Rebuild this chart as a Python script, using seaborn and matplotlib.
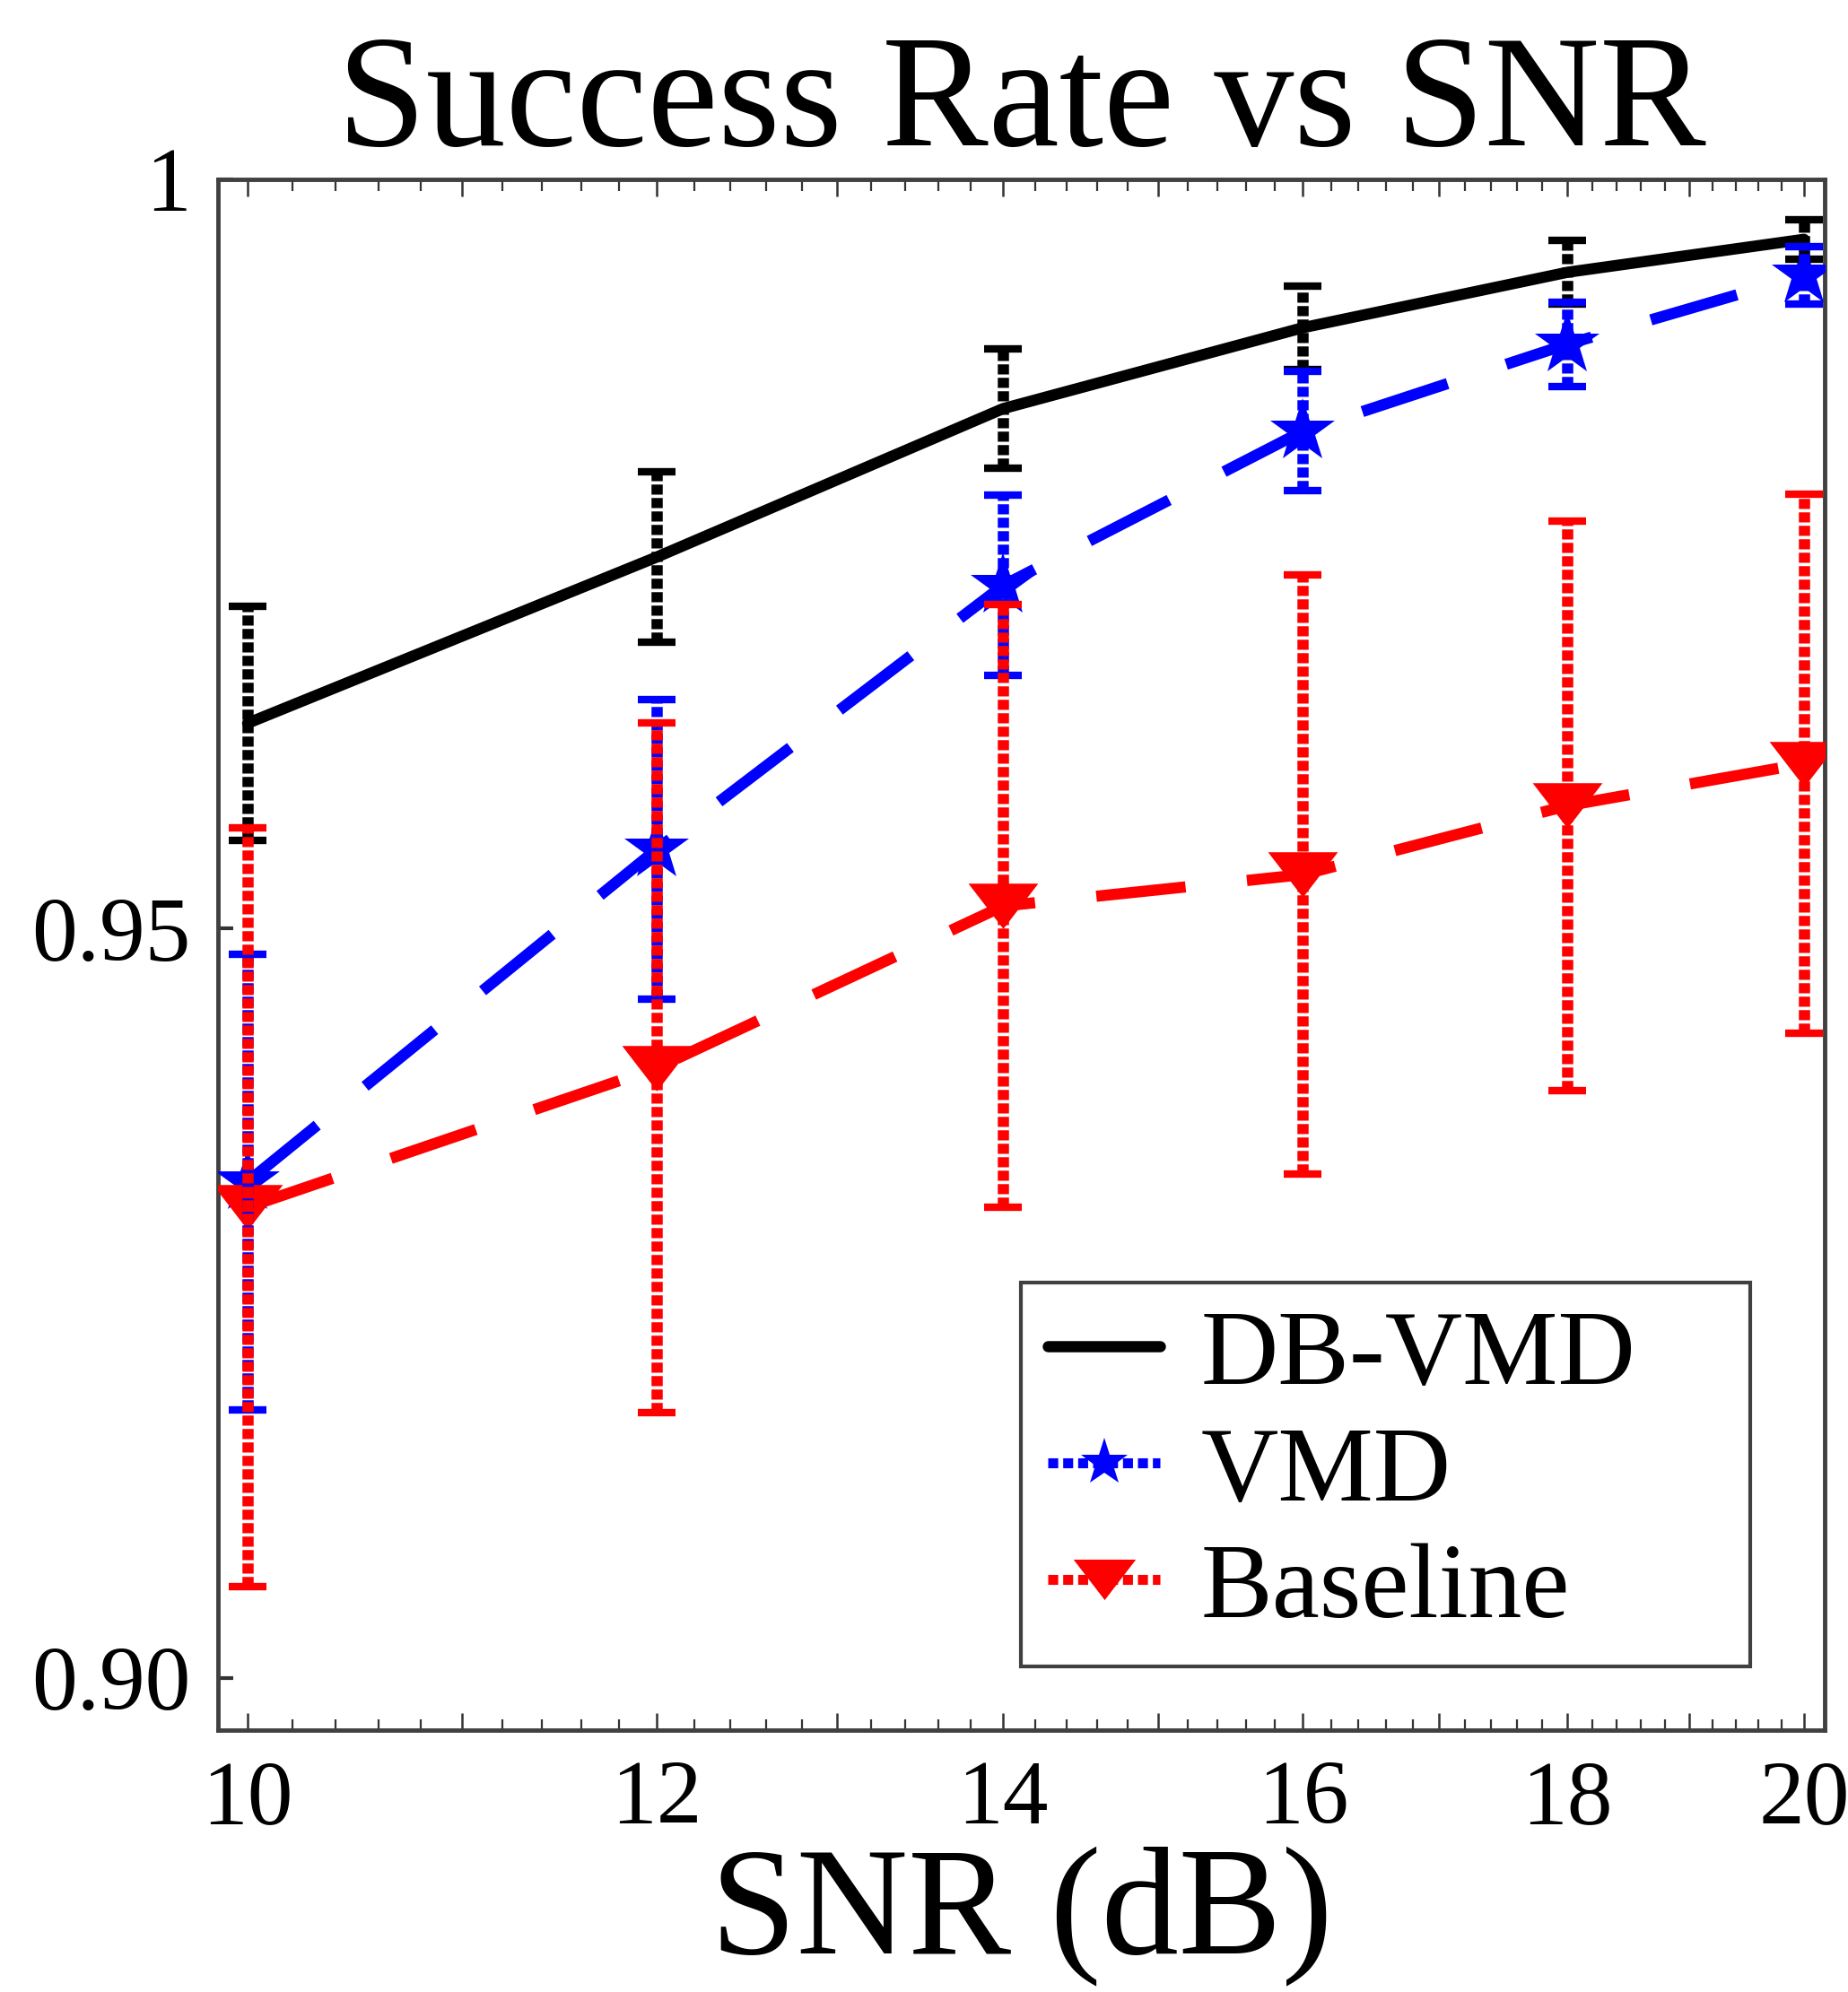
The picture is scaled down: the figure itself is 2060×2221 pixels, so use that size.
import numpy as np
import pandas as pd
import matplotlib
matplotlib.use("Agg")
import matplotlib.pyplot as plt
from matplotlib.lines import Line2D
from matplotlib.ticker import FixedLocator, FixedFormatter, NullFormatter
import seaborn as sns

# ---------------- data ----------------
snr = [10, 12, 14, 16, 18, 20]
db_vmd = [0.9637, 0.9748, 0.9847, 0.9901, 0.9938, 0.9960]
db_vmd_err = [0.0078, 0.0057, 0.0040, 0.0028, 0.0021, 0.0013]
vmd = [0.9331, 0.9553, 0.9729, 0.9832, 0.9890, 0.9936]
vmd_err = [0.0152, 0.0100, 0.0060, 0.0040, 0.0028, 0.0019]
baseline = [0.9314, 0.9407, 0.9515, 0.9536, 0.9582, 0.9610]
baseline_err = [0.0253, 0.0230, 0.0201, 0.0200, 0.0190, 0.0180]

series_names = ["DB-VMD", "VMD", "Baseline"]
x_major = [10, 11, 12, 13, 14, 15, 16, 17, 18, 19, 20]
x_labels = ["10", "", "12", "", "14", "", "16", "", "18", "", "20"]
y_ticks = [0.90, 0.95, 1.0]
y_labels = ["0.90", "0.95", "1"]

# ---------------- style ----------------
sns.set_style("white")
plt.rcParams["font.family"] = ["Liberation Serif", "DejaVu Serif"]
plt.rcParams["text.color"] = "black"
plt.rcParams["axes.labelcolor"] = "black"
plt.rcParams["xtick.labelcolor"] = "black"
plt.rcParams["ytick.labelcolor"] = "black"

fig = plt.figure(figsize=(20.60, 22.21), dpi=100)
ax = fig.add_axes([243 / 2060, 1 - 1929 / 2221, 1791 / 2060, 1729 / 2221])
ax.set_xscale("log")

tri = [(-1, 0.65), (1, 0.65), (0, -0.65)]
styles = [
    dict(color="black", marker=None, ms=0, dashes=None),
    dict(color="#0000ff", marker="*", ms=54, dashes=(8.0, 5.5)),
    dict(color="#ff0000", marker=tri, ms=56, dashes=(8.0, 5.5)),
]
values = [db_vmd, vmd, baseline]
errors = [db_vmd_err, vmd_err, baseline_err]

LW = 9
for name, vals, errs, st in zip(series_names, values, errors, styles):
    df = pd.DataFrame({"SNR": snr, "rate": vals})
    n_before = len(ax.lines)
    kws = dict(x="SNR", y="rate", data=df, color=st["color"], linewidth=LW,
               ax=ax, errorbar=None, legend=False, sort=False)
    if st["marker"] is not None:
        kws.update(marker=st["marker"], markersize=st["ms"],
                   markeredgewidth=0, markerfacecolor=st["color"])
    sns.lineplot(**kws)
    line = ax.lines[n_before]
    if st["dashes"] is not None:
        line.set_dashes(st["dashes"])
    line.set_zorder(3)
    cont = ax.errorbar(snr, vals, yerr=errs, fmt="none", ecolor=st["color"],
                       elinewidth=9, capsize=15, capthick=6, zorder=4)
    for lc in cont.lines[2]:
        lc.set_linestyle((0, (0.9, 0.3)))

# ---------------- axes ----------------
ax.set_xlim(9.869, 20.185)
ax.set_ylim(0.8965, 1.0)

ax.xaxis.set_major_locator(FixedLocator(x_major))
ax.xaxis.set_major_formatter(FixedFormatter(x_labels))
minor = [round(v, 1) for v in np.arange(9.8, 20.41, 0.2) if abs(v - round(v)) > 1e-6]
ax.xaxis.set_minor_locator(FixedLocator(minor))
ax.xaxis.set_minor_formatter(NullFormatter())
ax.set_yticks(y_ticks)
ax.set_yticklabels(y_labels)

ax.tick_params(axis="x", which="major", direction="in", top=True, bottom=True,
               length=14, width=1.8, color="#333333", labelsize=73, pad=24,
               labelcolor="black")
ax.tick_params(axis="x", which="minor", direction="in", top=True, bottom=True,
               length=9, width=1.6, color="#333333")
ax.tick_params(axis="y", which="major", direction="in", left=True, right=False,
               length=12, width=3, color="#333333", labelsize=73, pad=22,
               labelcolor="black")
ax.tick_params(axis="y", which="minor", left=False, right=False)

for sp in ax.spines.values():
    sp.set_visible(True)
    sp.set_color("#404040")
    sp.set_linewidth(3.5)

ax.set_title("Success Rate vs SNR", fontsize=128, pad=27, color="black")
ax.set_xlabel("SNR (dB)", fontsize=124, labelpad=2, color="black")
ax.set_ylabel("")
ax.grid(False)

# ---------------- legend ----------------
handles = [
    Line2D([], [], color="black", linewidth=LW),
    Line2D([], [], color="#0000ff", linewidth=8, linestyle=(0, (1.0, 0.5)),
           marker="*", markersize=40, markeredgewidth=0),
    Line2D([], [], color="#ff0000", linewidth=8, linestyle=(0, (1.0, 0.5)),
           marker=tri, markersize=50, markeredgewidth=0),
]
leg = ax.legend(handles, series_names, loc="lower left",
                bbox_to_anchor=(0.4997, 0.041, 0.4539, 0.246), mode="expand",
                borderaxespad=0, fontsize=86, handlelength=1.05,
                handletextpad=0.38, labelspacing=0.18, borderpad=0.25,
                fancybox=False, framealpha=1, edgecolor="#404040")
leg.get_frame().set_linewidth(3)
leg.set_zorder(10)
for t in leg.get_texts():
    t.set_color("black")

fig.savefig("out.png", dpi=100)
